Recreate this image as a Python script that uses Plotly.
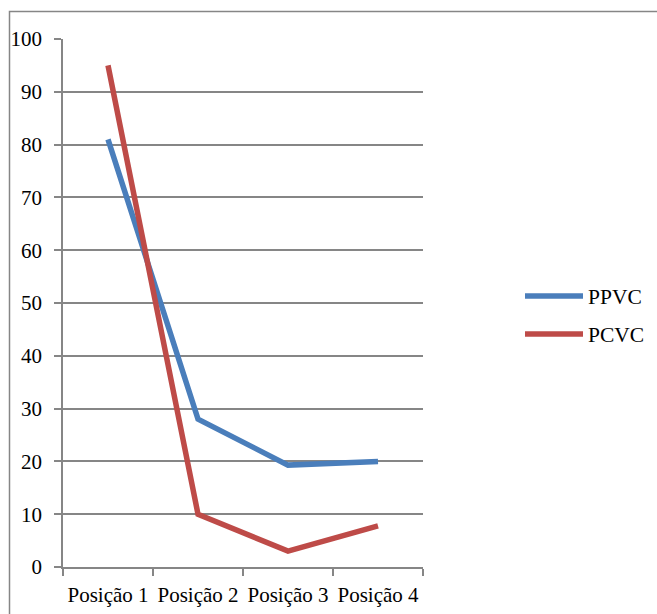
import plotly.graph_objects as go

categories = ["Posição 1", "Posição 2", "Posição 3", "Posição 4"]
ppvc = [81, 28, 19.3, 20]
pcvc = [95, 10, 3, 7.8]

W, H = 657, 614
L, R, T, B = 63, 234, 39, 47
pw, ph = W - L - R, H - T - B

def px_x(p):
    return (p - L) / pw

def px_y(p):
    return (H - B - p) / ph

fam = "'Liberation Serif', 'Times New Roman', Times, serif"
font = dict(family=fam, size=21, color="#000000")
legfont = dict(family=fam, size=21.5, color="#000000")
grid = "#868686"

fig = go.Figure()
fig.add_trace(go.Scatter(x=categories, y=ppvc, mode="lines", name="PPVC",
                         line=dict(color="#4A7EBB", width=5.5), legend="legend"))
fig.add_trace(go.Scatter(x=categories, y=pcvc, mode="lines", name="PCVC",
                         line=dict(color="#BE4B48", width=5.5), legend="legend2"))

leg = dict(font=legfont, bgcolor="rgba(0,0,0,0)", xanchor="left", yanchor="middle",
           itemwidth=58)
fig.update_layout(
    width=W, height=H,
    margin=dict(l=L, r=R, t=T, b=B, autoexpand=False),
    paper_bgcolor="white", plot_bgcolor="white",
    font=font,
    showlegend=True,
    legend=dict(leg, x=px_x(520), y=px_y(296)),
    legend2=dict(leg, x=px_x(520), y=px_y(334)),
    xaxis=dict(type="category", tickson="boundaries", ticks="outside", ticklen=7,
               tickcolor=grid, tickwidth=1.5, showline=True, linecolor=grid,
               linewidth=1.5, showgrid=False, ticklabelstandoff=8, tickangle=0,
               tickfont=font, range=[-0.5, 3.5], automargin=False),
    yaxis=dict(range=[0, 100], tickvals=list(range(0, 101, 10)), ticks="outside",
               ticklen=7, tickcolor=grid, tickwidth=1.5, showline=True,
               linecolor=grid, linewidth=1.5, showgrid=True, gridcolor=grid,
               gridwidth=1.5, zeroline=False, ticklabelstandoff=8, tickfont=font,
               automargin=False),
    shapes=[dict(type="rect", xref="paper", yref="paper",
                 x0=px_x(9.5), x1=px_x(W + 20), y0=px_y(H + 20), y1=px_y(11.5),
                 line=dict(color=grid, width=1.5), fillcolor="rgba(0,0,0,0)",
                 layer="below")],
)

fig.write_html("out.html")
